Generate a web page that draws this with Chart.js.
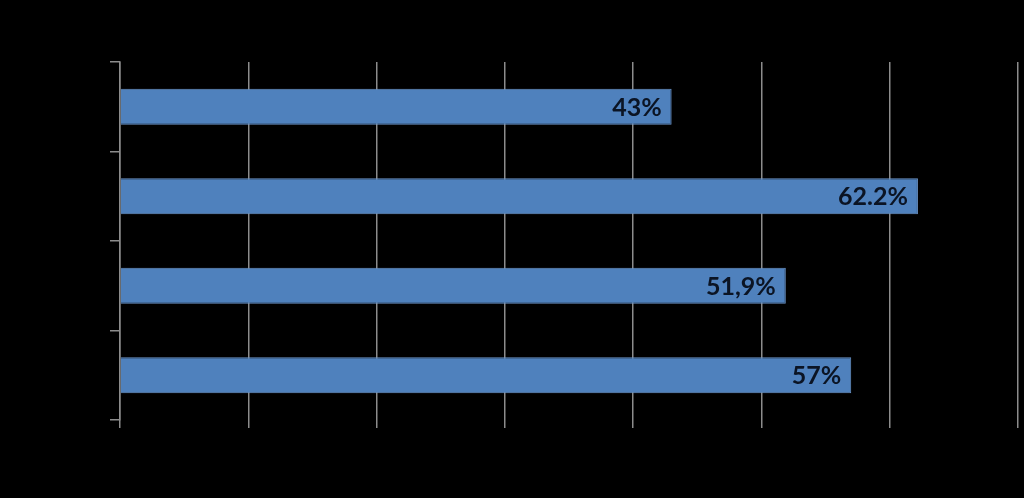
<!DOCTYPE html>
<html>
<head>
<meta charset="utf-8">
<script src="https://cdn.jsdelivr.net/npm/chart.js@4/dist/chart.umd.min.js"></script>
<style>
  html, body { margin: 0; padding: 0; background: #000; }
  #wrap { width: 1024px; height: 498px; }
</style>
</head>
<body>
<div id="wrap"><canvas id="barChart"></canvas></div>
<script>
// Chart values
const categories = ['1', '2', '3', '4'];
const values = [43, 62.2, 51.9, 57];
const valueLabels = ['43%', '62.2%', '51,9%', '57%'];
const xTicks = [0, 10, 20, 30, 40, 50, 60, 70];

// Draws the value text inside the end of each bar
const barLabels = {
  id: 'barLabels',
  afterDatasetsDraw(chart) {
    const ctx = chart.ctx;
    const meta = chart.getDatasetMeta(0);
    ctx.save();
    ctx.font = 'bold 25px Lato, "Open Sans", sans-serif';
    ctx.fillStyle = '#0b1424';
    ctx.textAlign = 'right';
    ctx.textBaseline = 'middle';
    meta.data.forEach((bar, i) => {
      ctx.fillText(valueLabels[i], bar.x - 10, bar.y + 1);
    });
    ctx.restore();
  }
};

const barChart = new Chart(document.getElementById('barChart'), {
  type: 'bar',
  data: {
    labels: categories,
    datasets: [{
      data: values,
      backgroundColor: '#4f81bd',
      borderColor: '#6a94c8',
      borderWidth: 1,
      categoryPercentage: 1,
      barPercentage: 0.4,
    }],
  },
  options: {
    indexAxis: 'y',
    responsive: true,
    maintainAspectRatio: false,
    animation: false,
    layout: { padding: { left: 110, right: 6, top: 62, bottom: 70 } },
    plugins: {
      legend: { display: false },
      tooltip: { enabled: false }
    },
    scales: {
      x: {
        min: 0,
        max: 70,
        afterBuildTicks: (axis) => { axis.ticks = xTicks.map(v => ({ value: v })); },
        ticks: { display: false },
        border: { display: false },
        grid: { color: '#8c8c8c', lineWidth: 1.5, drawTicks: true, tickLength: 8 }
      },
      y: {
        offset: true,
        ticks: { display: false },
        border: { display: true, color: '#8c8c8c', width: 1.5 },
        grid: { offset: true, drawOnChartArea: false, color: '#8c8c8c', lineWidth: 1.5, tickLength: 10 }
      }
    }
  },
  plugins: [barLabels]
});
</script>
</body>
</html>
